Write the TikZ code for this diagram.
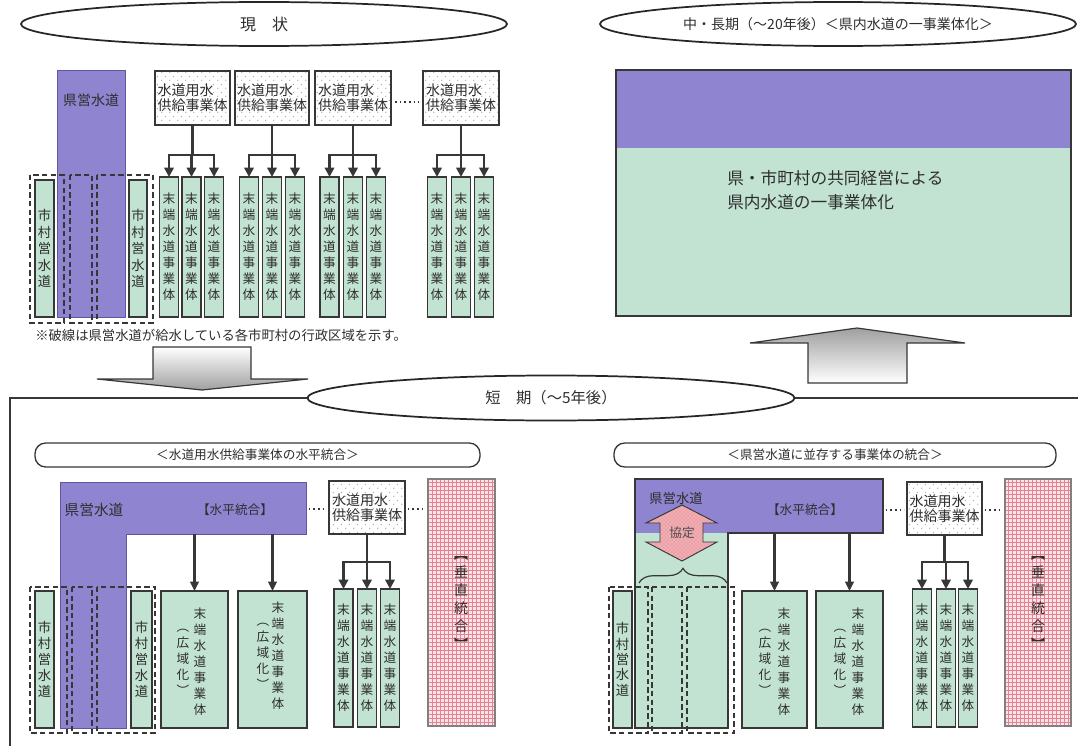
\documentclass[tikz,border=0pt]{standalone}
\usepackage{fontspec}
\setmainfont{Noto Sans CJK JP}
\usetikzlibrary{arrows.meta,patterns,decorations.pathreplacing,shapes.geometric}
\definecolor{purp}{RGB}{142,132,208}
\definecolor{purpln}{RGB}{95,85,160}
\definecolor{mint}{RGB}{194,227,210}
\definecolor{ink}{RGB}{55,55,55}
\definecolor{pinkbg}{RGB}{252,228,232}
\definecolor{pinkln}{RGB}{228,130,145}
\definecolor{salmon}{RGB}{236,160,165}
\pgfdeclarepatternformonly{sparsedots}{\pgfqpoint{0pt}{0pt}}{\pgfqpoint{6pt}{6pt}}{\pgfqpoint{6pt}{6pt}}{%
  \pgfpathcircle{\pgfqpoint{1.5pt}{1.5pt}}{0.55pt}%
  \pgfpathcircle{\pgfqpoint{4.5pt}{4.5pt}}{0.55pt}%
  \pgfusepath{fill}}
\newcommand\fsz[2]{\fontsize{#1pt}{#2pt}\selectfont}
\newcommand\rnode[7]{\node[#1, minimum width={((#5)-(#3))*0.75pt}, minimum height={((#6)-(#4))*0.75pt}] (#2) at ({((#3)+(#5))/2},{((#4)+(#6))/2}) {#7};}
\begin{document}
\begin{tikzpicture}[x=0.75pt,y=-0.75pt,
  every node/.style={text=black!82},
  ln/.style={draw=ink, line width=2pt},
  arr/.style={draw=ink, line width=2pt, -{Triangle[length=7pt,width=7pt]}},
  arrb/.style={draw=ink, line width=1.6pt, -{Triangle[length=7pt,width=6.5pt]}},
  sup/.style={draw=ink, line width=1.1pt, pattern=sparsedots, pattern color=gray!75, inner sep=0pt, outer sep=0pt, align=left, font=\fsz{10.5}{11.5}},
  leaf/.style={draw=ink, line width=0.9pt, fill=mint, inner sep=0pt, outer sep=0pt, align=center, font=\fsz{9.5}{12}},
  big/.style={draw=ink, line width=0.9pt, fill=mint, inner sep=0pt, outer sep=0pt},
  vtxt/.style={align=center, inner sep=0pt, font=\fsz{9.5}{12}},
  pbox/.style={fill=purp, draw=purpln, line width=0.6pt, inner sep=0pt, outer sep=0pt},
  dsh/.style={draw=ink, line width=1.1pt, dash pattern=on 4pt off 2.5pt},
  dotln/.style={draw=ink, line width=1.3pt, dash pattern=on 1.3pt off 2.2pt},
  pinkbox/.style={draw=gray, line width=0.9pt, preaction={fill=pinkbg}, pattern=grid, pattern color=pinkln, inner sep=0pt, outer sep=0pt},
  oval/.style={ellipse, draw=black!85, line width=1.3pt, fill=white, inner sep=0pt},
  lbl/.style={draw=ink, line width=1pt, rounded corners=8pt, fill=white, inner sep=0pt, font=\fsz{9.5}{11}},
  frame/.style={draw=ink, line width=1.1pt},
]
\useasboundingbox (0,0) rectangle (1078,746);

% ---------- top ovals ----------
\node[oval, minimum width={486*0.75pt}, minimum height={44*0.75pt}, font=\fsz{12}{14}] (now) at (264,24) {現　状};
\node[oval, minimum width={476*0.75pt}, minimum height={44*0.75pt}, font=\fsz{10.5}{12}] (future) at (838,24) {中・長期（～20年後）＜県内水道の一事業体化＞};

% ---------- current state ----------
\rnode{pbox}{P0}{57}{70}{125}{317}{}
\node[font=\fsz{10.5}{12}] (P0t) at (91,100) {県営水道};
\rnode{leaf, font=\fsz{10}{12.4}}{L1}{35}{180}{54}{317}{市\\村\\営\\水\\道}
\rnode{leaf, font=\fsz{10}{12.4}}{L2}{129}{180}{147}{317}{市\\村\\営\\水\\道}
\draw[dsh] (30,175) rectangle (64,323);
\draw[dsh] (70,175) rectangle (92,323);
\draw[dsh] (97,175) rectangle (153,323);

\rnode{sup}{s1}{155}{71}{230}{125}{水道用水\\供給事業体}
\rnode{sup}{s2}{235}{71}{309}{125}{水道用水\\供給事業体}
\rnode{sup}{s3}{315}{71}{391}{125}{水道用水\\供給事業体}
\rnode{sup}{s4}{423}{71}{499}{125}{水道用水\\供給事業体}
\draw[dotln, shorten <=3pt, shorten >=3pt] ([yshift=-3pt]s3.east) -- ([yshift=-3pt]s4.west);

\foreach \n/\cx in {g1a/169, g1b/191.5, g1c/214, g2a/249, g2b/272, g2c/295, g3a/329.5, g3b/353, g3c/376, g4a/437, g4b/461, g4c/484}
  {\rnode{leaf}{\n}{\cx-9.5}{177}{\cx+9.5}{317}{末\\端\\水\\道\\事\\業\\体}}

\foreach \s/\g in {s1/g1, s2/g2, s3/g3, s4/g4}{
  \coordinate (t\s) at (\s.south |- 0,155);
  \foreach \k in {a,b,c}{\draw[arr] (\s.south) -- (t\s) -| (\g\k.north);}
}

\node[anchor=west, inner sep=0pt, font=\fsz{10}{12}] (note) at (35,335) {※破線は県営水道が給水している各市町村の行政区域を示す。};

% ---------- block arrows ----------
\shadedraw[top color=white, bottom color=gray!75, draw=ink, line width=0.9pt]
  (153,347) -- (251,347) -- (251,379) -- (308,379) -- (202,390) -- (97,379) -- (153,379) -- cycle;
\shadedraw[top color=gray!75, bottom color=white, draw=ink, line width=0.9pt]
  (808,383) -- (907,383) -- (907,343) -- (965,343) -- (857,328) -- (750,343) -- (808,343) -- cycle;

% ---------- short term frame ----------
\draw[frame] (10,746) -- (10,398) -- (1078,398);
\node[oval, minimum width={487*0.75pt}, minimum height={45*0.75pt}, font=\fsz{11.5}{13}] (short) at (551,398) {短　期（～5年後）};

\rnode{lbl}{lab1}{35}{443}{480}{467}{＜水道用水供給事業体の水平統合＞}
\rnode{lbl}{lab2}{614}{443}{1056}{467}{＜県営水道に並存する事業体の統合＞}

% ---------- long term box ----------
\fill[purp] (616,70) rectangle (1071,148);
\fill[mint] (616,148) rectangle (1071,316);
\draw[ink, line width=1pt] (616,70) rectangle (1071,316);
\node[anchor=west, align=left, font=\fsz{12.5}{18}, inner sep=0pt] (unify) at (727,190) {県・市町村の共同経営による\\県内水道の一事業体化};

% ---------- bottom left ----------
\draw[fill=purp, draw=purpln, line width=0.6pt] (60,482) -- (306,482) -- (306,534) -- (126,534) -- (126,728) -- (60,728) -- cycle;
\node[font=\fsz{11}{12}] (P1t) at (94,510) {県営水道};
\node[font=\fsz{9.5}{11}] (H1t) at (235,510) {【水平統合】};
\coordinate (P1bar) at (0,534);
\coordinate (P1e) at (306,509);
\rnode{leaf, font=\fsz{10}{12}}{M1}{35}{591}{54}{728}{市\\村\\営\\水\\道}
\rnode{leaf, font=\fsz{10}{12}}{M2}{131}{591}{152}{728}{市\\村\\営\\水\\道}
\rnode{big}{gA}{161}{591}{228}{728}{}
\rnode{big}{gB}{238}{591}{307}{728}{}
\node[vtxt] (gAm) at (200,662) {末\\端\\水\\道\\事\\業\\体};
\node[vtxt] (gAs) at (183,662) {︵\\広\\域\\化\\︶};
\node[vtxt] (gBm) at (278,656) {末\\端\\水\\道\\事\\業\\体};
\node[vtxt] (gBs) at (263,656) {︵\\広\\域\\化\\︶};
\draw[arrb] (gA.north |- P1bar) -- (gA.north);
\draw[arrb] (gB.north |- P1bar) -- (gB.north);
\draw[dsh] (30,587) rectangle (67,733);
\draw[dsh] (72,587) rectangle (92,733);
\draw[dsh] (97,587) rectangle (155,733);

\rnode{sup}{sb1}{329}{481}{405}{534}{水道用水\\供給事業体}
\rnode{pinkbox}{V1}{428}{479}{495}{726}{}
\node[vtxt, font=\fsz{10.5}{13.5}] (V1t) at (461,603) {︻\\垂\\直\\統\\合\\︼};
\draw[dotln, shorten <=2pt, shorten >=2pt] (P1e) -- (sb1.west |- P1e);
\draw[dotln, shorten <=2pt, shorten >=2pt] (sb1.east |- P1e) -- (V1.west |- P1e);
\foreach \n/\cx in {h1a/343.5, h1b/367, h1c/390}
  {\rnode{leaf}{\n}{\cx-9.5}{589}{\cx+9.5}{727}{末\\端\\水\\道\\事\\業\\体}}
\coordinate (tb1) at (sb1.south |- 0,562);
\foreach \k in {a,b,c}{\draw[arr] (sb1.south) -- (tb1) -| (h1\k.north);}

% ---------- bottom right ----------
\fill[purp] (635,479) rectangle (883,533);
\fill[mint] (635,533) rectangle (728,728);
\draw[ink, line width=0.9pt] (635,479) -- (883,479) -- (883,533) -- (728,533) -- (728,728) -- (635,728) -- cycle;
\node[font=\fsz{10}{12}] (P2t) at (676,498) {県営水道};
\node[font=\fsz{9.5}{11}] (H2t) at (805,510) {【水平統合】};
\coordinate (P2bar) at (0,533);
\coordinate (P2e) at (883,510);
\path[draw=ink, line width=0.7pt, preaction={fill=salmon}, pattern=crosshatch dots, pattern color=pinkbg]
  (682,505) -- (717,523) -- (703,523) -- (703,542) -- (717,542) -- (682,561) -- (646,542) -- (660,542) -- (660,523) -- (646,523) -- cycle;
\node[font=\fsz{9.5}{11}, text=black!70] (kyotei) at (682,533) {協定};
\draw[ink, line width=0.9pt, decorate, decoration={brace, amplitude=11pt}] (639,583) -- (727,583);
\rnode{leaf, font=\fsz{10}{11.5}}{N1}{613}{591}{632}{728}{市\\村\\営\\水\\道}
\draw[dsh] (609,587) rectangle (648,733);
\draw[dsh] (652,587) rectangle (682,733);
\draw[dsh] (687,587) rectangle (734,733);
\rnode{big}{gC}{742}{591}{807}{728}{}
\rnode{big}{gD}{816}{591}{883}{728}{}
\node[vtxt] (gCm) at (784,662) {末\\端\\水\\道\\事\\業\\体};
\node[vtxt] (gCs) at (765,662) {︵\\広\\域\\化\\︶};
\node[vtxt] (gDm) at (858,662) {末\\端\\水\\道\\事\\業\\体};
\node[vtxt] (gDs) at (840,662) {︵\\広\\域\\化\\︶};
\draw[arrb] (gC.north |- P2bar) -- (gC.north);
\draw[arrb] (gD.north |- P2bar) -- (gD.north);

\rnode{sup}{sb2}{907}{482}{982}{535}{水道用水\\供給事業体}
\rnode{pinkbox}{V2}{1005}{479}{1071}{726}{}
\node[vtxt, font=\fsz{10.5}{13.5}] (V2t) at (1038,603) {︻\\垂\\直\\統\\合\\︼};
\draw[dotln, shorten <=2pt, shorten >=2pt] (P2e) -- (sb2.west |- P2e);
\draw[dotln, shorten <=2pt, shorten >=2pt] (sb2.east |- P2e) -- (V2.west |- P2e);
\foreach \n/\cx in {k1a/922, k1b/946, k1c/968}
  {\rnode{leaf}{\n}{\cx-9.5}{589}{\cx+9.5}{727}{末\\端\\水\\道\\事\\業\\体}}
\coordinate (tb2) at (sb2.south |- 0,562);
\foreach \k in {a,b,c}{\draw[arr] (sb2.south) -- (tb2) -| (k1\k.north);}
\end{tikzpicture}
\end{document}
